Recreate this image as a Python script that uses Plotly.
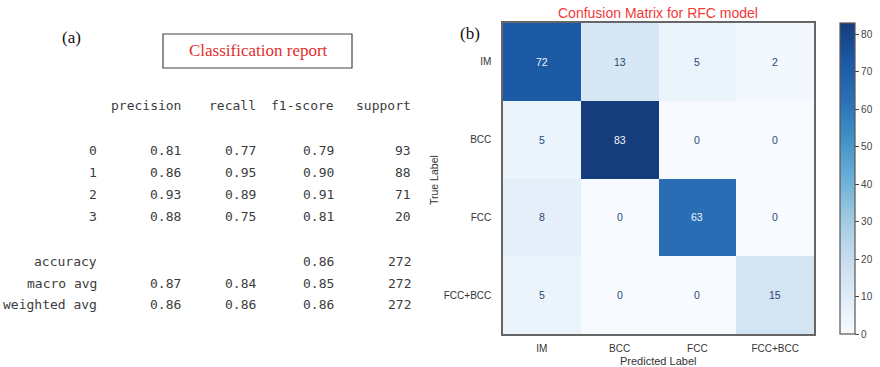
import plotly.graph_objects as go

W, H = 880, 367

# ---- Data ----
report_rows = ["0", "1", "2", "3", "accuracy", "macro avg", "weighted avg"]
report_cols = ["precision", "recall", "f1-score", "support"]
precision = ["0.81", "0.86", "0.93", "0.88", "", "0.87", "0.86"]
recall = ["0.77", "0.95", "0.89", "0.75", "", "0.84", "0.86"]
f1_score = ["0.79", "0.90", "0.91", "0.81", "0.86", "0.85", "0.86"]
support = ["93", "88", "71", "20", "272", "272", "272"]

classes = ["IM", "BCC", "FCC", "FCC+BCC"]
cm_values = [
    [72, 13, 5, 2],
    [5, 83, 0, 0],
    [8, 0, 63, 0],
    [5, 0, 0, 15],
]
cbar_ticks = [0, 10, 20, 30, 40, 50, 60, 70, 80]

# ---- helpers (screen pixel -> paper fraction) ----
def px(x):
    return x / W

def py(y):
    return 1 - y / H

blues = [
    [0.0, "#f7fbff"], [0.125, "#deebf7"], [0.25, "#c6dbef"], [0.375, "#9ecae1"],
    [0.5, "#6baed6"], [0.625, "#4292c6"], [0.75, "#2a70b6"], [0.875, "#1b59a4"],
    [1.0, "#153d7c"],
]

zmax = max(max(r) for r in cm_values)
zmin = min(min(r) for r in cm_values)

fig = go.Figure()
fig.add_trace(go.Heatmap(
    z=cm_values, x=classes, y=classes,
    colorscale=blues, zmin=zmin, zmax=zmax,
    showscale=True, hoverinfo="skip",
    colorbar=dict(
        x=px(840), xanchor="left", xpad=0,
        y=py(334), yanchor="bottom", ypad=0,
        len=311 / H, lenmode="fraction",
        thickness=15, thicknessmode="pixels",
        outlinecolor="#555", outlinewidth=1.2,
        tickvals=cbar_ticks, ticks="outside", ticklen=4, tickcolor="#444",
        tickfont=dict(family="Liberation Sans, Arial", size=10, color="#444"),
    ),
))

annotations = []
thresh = (zmax + zmin) / 2
for i, row in enumerate(cm_values):
    for j, v in enumerate(row):
        annotations.append(dict(
            x=classes[j], y=classes[i], xref="x", yref="y",
            text=str(v), showarrow=False,
            font=dict(family="Liberation Sans, Arial", size=10.5,
                      color="#eef4fb" if v > thresh else "#2a4775"),
        ))

def note(x, y, text, font, xanchor="center", **kw):
    d = dict(x=px(x), y=py(y), xref="paper", yref="paper", xanchor=xanchor,
             yanchor="middle", text=text, showarrow=False, font=font)
    d.update(kw)
    annotations.append(d)

# Table (classification report)
mono = dict(family="DejaVu Sans Mono, Liberation Mono, monospace", size=13, color="#3c3c3c")
col_right = [183, 258, 336, 413]
header_y = 105
row_y = [150, 172, 194, 217, 261, 283, 304]
for c, name in enumerate(report_cols):
    note(col_right[c], header_y, name, mono, xanchor="right")
cols = [precision, recall, f1_score, support]
for r, lab in enumerate(report_rows):
    note(99, row_y[r], lab, mono, xanchor="right")
    for c, col in enumerate(cols):
        if col[r]:
            note(col_right[c], row_y[r], col[r], mono, xanchor="right")

serif = "Liberation Serif, Times New Roman, serif"
sans = "Liberation Sans, Arial"
note(71, 38, "(a)", dict(family=serif, size=17, color="#111"))
note(470, 33, "(b)", dict(family=serif, size=17, color="#111"))
note(258, 51, "Classification report", dict(family=serif, size=17, color="#e0302e"))
note(658, 13, "Confusion Matrix for RFC model", dict(family=sans, size=14, color="#f03a3a"))
note(658, 361, "Predicted Label", dict(family=sans, size=11, color="#333"))
note(434, 180, "True Label", dict(family=sans, size=10.5, color="#333"), textangle=-90)

fig.update_layout(
    width=W, height=H,
    margin=dict(l=0, r=0, t=0, b=0),
    paper_bgcolor="white", plot_bgcolor="white",
    showlegend=False,
    annotations=annotations,
    shapes=[dict(type="rect", xref="paper", yref="paper",
                 x0=px(163), x1=px(352), y0=py(68), y1=py(34),
                 line=dict(color="#444", width=1.2))],
    xaxis=dict(domain=[px(503), px(814)], showgrid=False, zeroline=False,
               showline=True, linecolor="#666", linewidth=1.5, mirror=True,
               ticks="", ticklabelstandoff=4,
               tickfont=dict(family=sans, size=10, color="#333"),
               fixedrange=True),
    yaxis=dict(domain=[py(334), py(23)], showgrid=False, zeroline=False,
               autorange="reversed",
               showline=True, linecolor="#666", linewidth=1.5, mirror=True,
               ticks="", ticklabelstandoff=8,
               tickfont=dict(family=sans, size=10, color="#333"),
               fixedrange=True),
)

fig.write_html("out.html",
               config={"displayModeBar": False},
               post_script="document.body.style.margin='0';document.body.style.padding='0';")
